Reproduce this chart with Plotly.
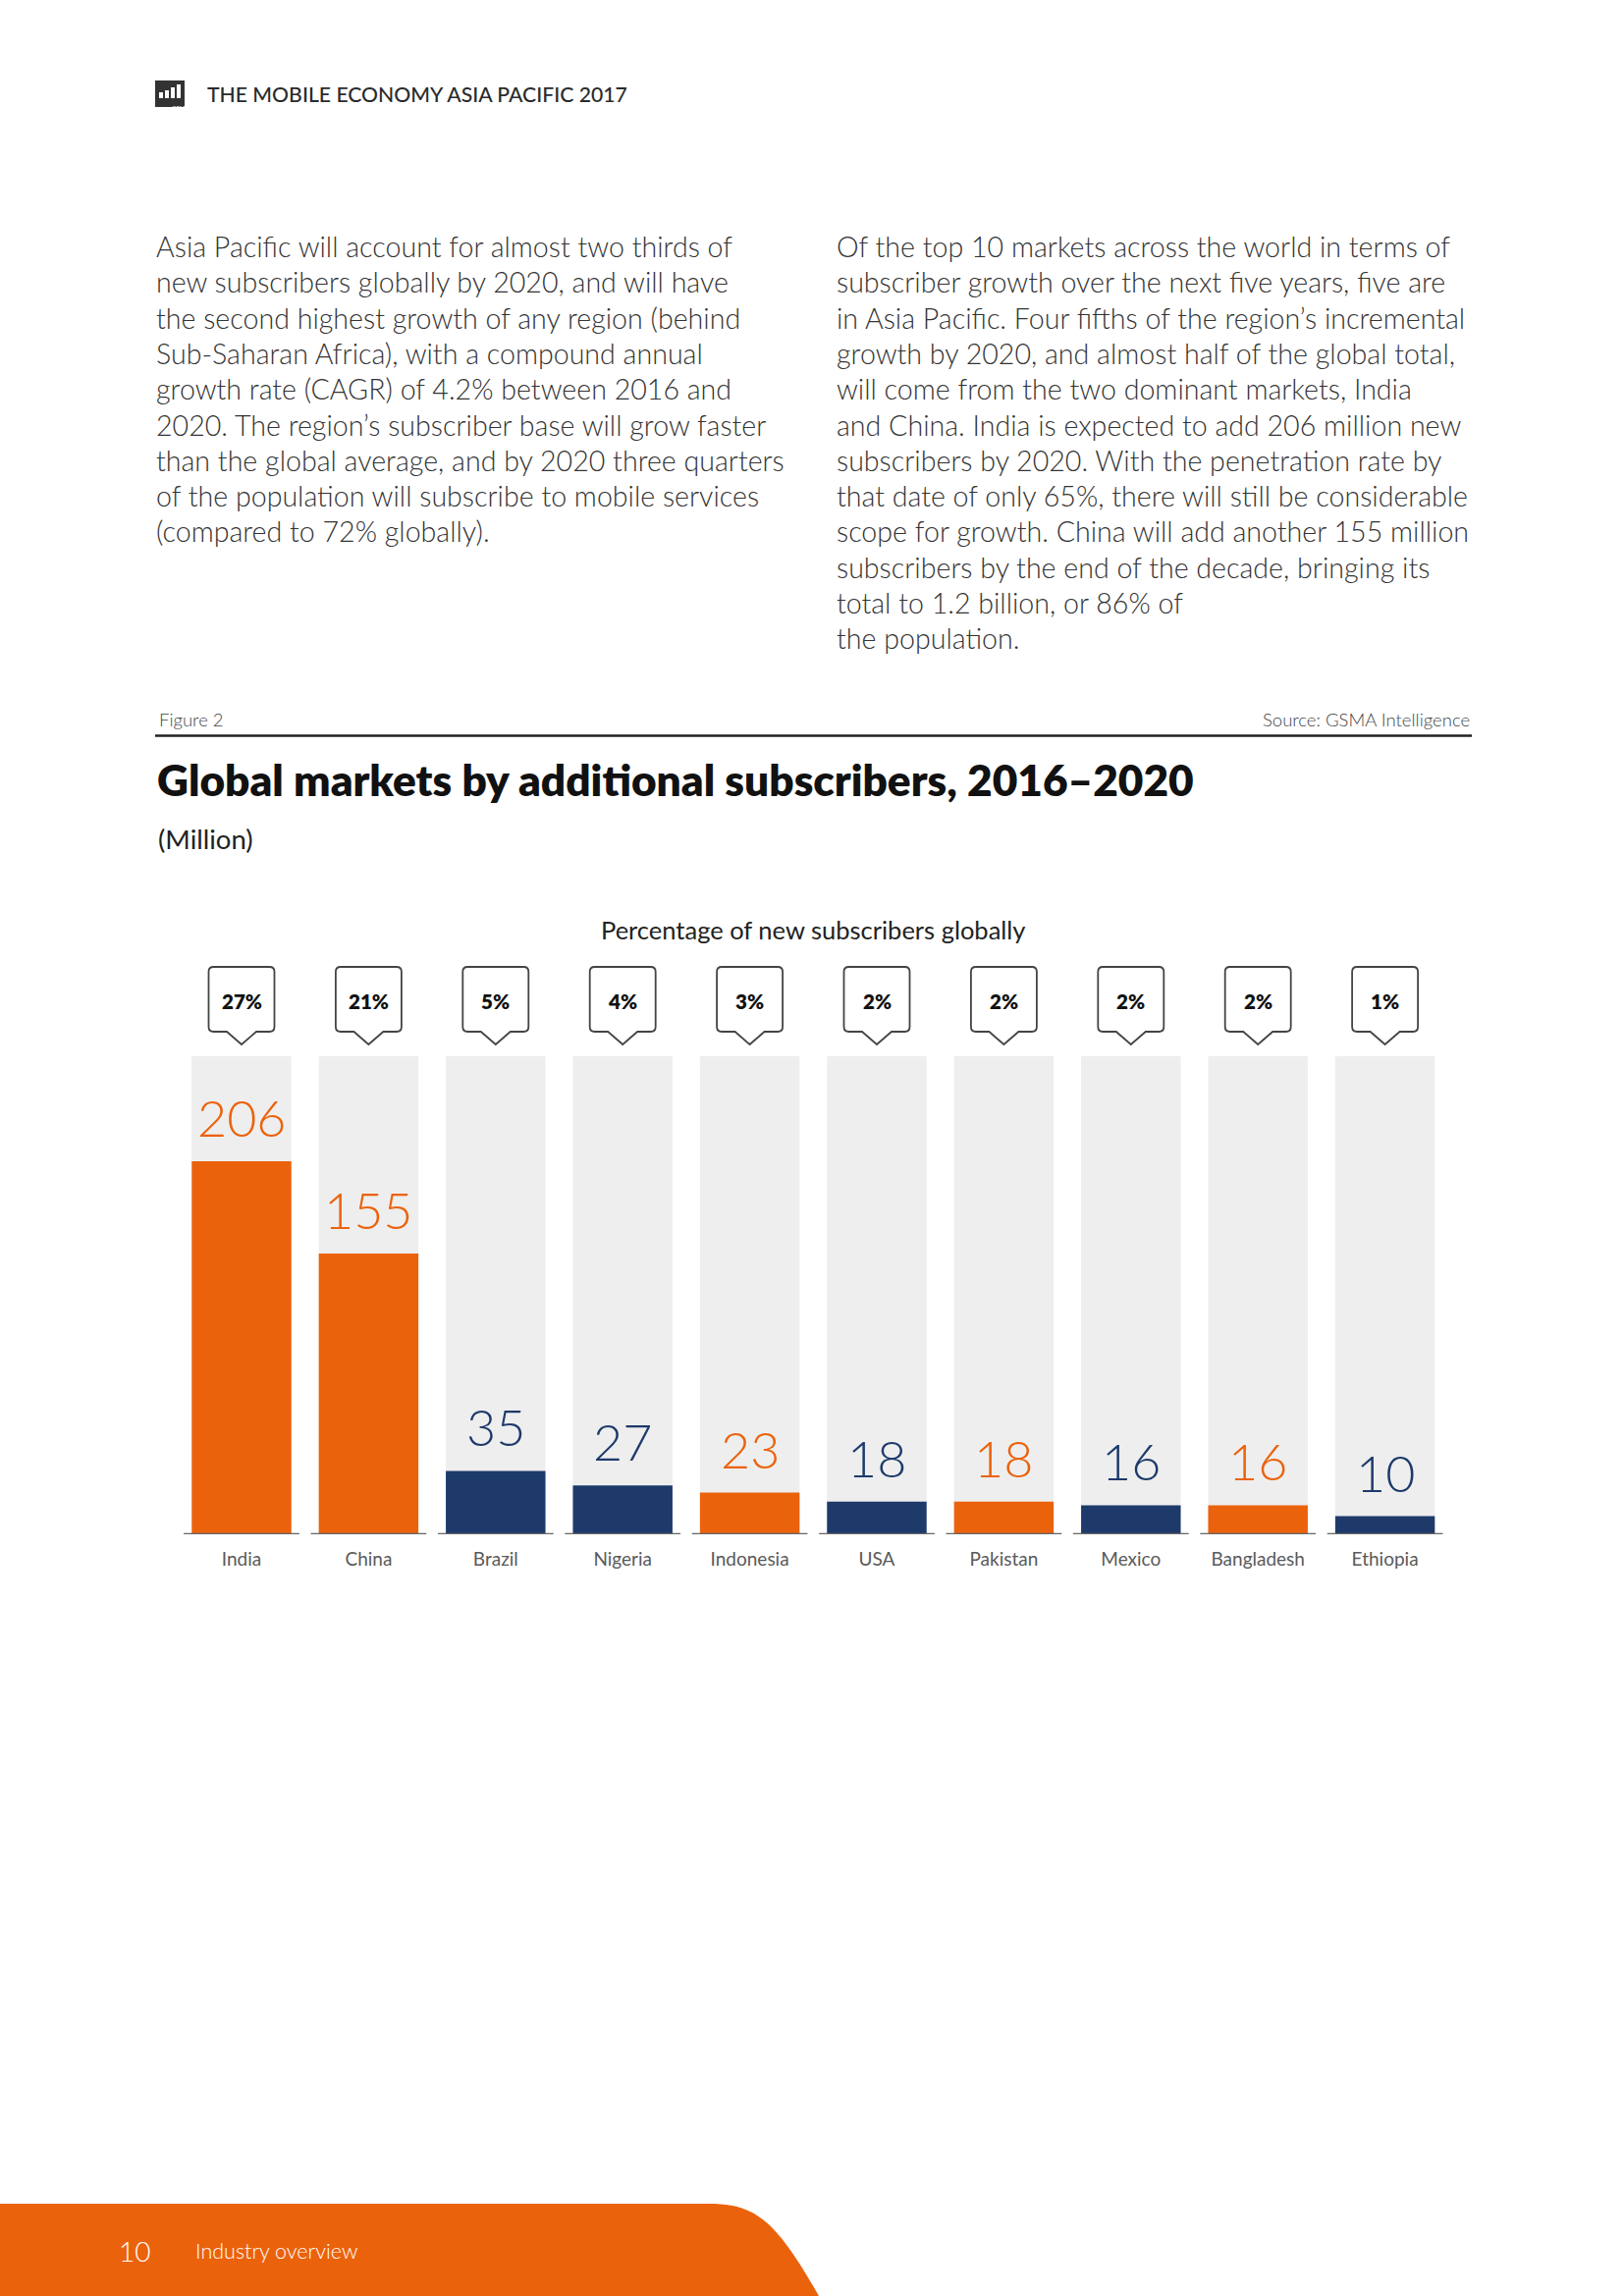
import plotly.graph_objects as go

# ---------------- data ----------------
countries = ["India", "China", "Brazil", "Nigeria", "Indonesia", "USA",
             "Pakistan", "Mexico", "Bangladesh", "Ethiopia"]
additional_subscribers = [206, 155, 35, 27, 23, 18, 18, 16, 16, 10]
share_of_new_pct = [27, 21, 5, 4, 3, 2, 2, 2, 2, 1]
is_asia_pacific = [True, True, False, False, True, False, True, False, True, False]

header_text = "THE MOBILE ECONOMY ASIA PACIFIC 2017"
left_lines = [
    "Asia Pacific will account for almost two thirds of",
    "new subscribers globally by 2020, and will have",
    "the second highest growth of any region (behind",
    "Sub-Saharan Africa), with a compound annual",
    "growth rate (CAGR) of 4.2% between 2016 and",
    "2020. The region\u2019s subscriber base will grow faster",
    "than the global average, and by 2020 three quarters",
    "of the population will subscribe to mobile services",
    "(compared to 72% globally).",
]
right_lines = [
    "Of the top 10 markets across the world in terms of",
    "subscriber growth over the next five years, five are",
    "in Asia Pacific. Four fifths of the region\u2019s incremental",
    "growth by 2020, and almost half of the global total,",
    "will come from the two dominant markets, India",
    "and China. India is expected to add 206 million new",
    "subscribers by 2020. With the penetration rate by",
    "that date of only 65%, there will still be considerable",
    "scope for growth. China will add another 155 million",
    "subscribers by the end of the decade, bringing its",
    "total to 1.2 billion, or 86% of",
    "the population.",
]

# ---------------- style ----------------
W, H = 1654, 2339
ORANGE = "#EB620C"
NAVY = "#1D3A6A"
GREY_BG = "#EEEEEE"
TEXT = "#333333"
BODY_FONT = "Lato"
Y_MAX = 264


def px(x):
    return x / W


def py(y):
    return 1 - y / H


bar_colors = [ORANGE if a else NAVY for a in is_asia_pacific]

fig = go.Figure()
fig.add_trace(go.Bar(x=countries, y=[Y_MAX] * len(countries), marker_color=GREY_BG,
                     marker_line_width=0, hoverinfo="skip", showlegend=False))
fig.add_trace(go.Bar(x=countries, y=additional_subscribers, marker_color=bar_colors,
                     marker_line_width=0, showlegend=False))

annotations = []
shapes = []

# header
shapes.append(dict(type="rect", xref="paper", yref="paper", x0=px(158), x1=px(188),
                   y0=py(109), y1=py(82), fillcolor="#333333", line_width=0))
for i, h0 in enumerate([94, 92, 89, 86]):
    shapes.append(dict(type="rect", xref="paper", yref="paper",
                       x0=px(162 + i * 6), x1=px(166 + i * 6), y0=py(100), y1=py(h0),
                       fillcolor="white", line_width=0))
annotations.append(dict(text="GSMA", x=px(173), y=py(104), xref="paper", yref="paper",
                        showarrow=False, font=dict(family=BODY_FONT, size=6, color="white")))
annotations.append(dict(text=header_text, x=px(209), y=py(96), xref="paper", yref="paper",
                        xanchor="left", yanchor="middle", showarrow=False,
                        font=dict(family=BODY_FONT, size=21.2, color="#2b2b2b", weight=500)))

# body paragraphs
for k, line in enumerate(left_lines):
    annotations.append(dict(text=line, x=px(157), y=py(251 + 36.3 * k), xref="paper", yref="paper",
                            xanchor="left", yanchor="middle", showarrow=False,
                            font=dict(family=BODY_FONT, size=28.6, color=TEXT, weight=300)))
for k, line in enumerate(right_lines):
    annotations.append(dict(text=line, x=px(850), y=py(251 + 36.3 * k), xref="paper", yref="paper",
                            xanchor="left", yanchor="middle", showarrow=False,
                            font=dict(family=BODY_FONT, size=28.6, color=TEXT, weight=300)))

# figure label, source, rule
annotations.append(dict(text="Figure 2", x=px(160), y=py(733), xref="paper", yref="paper",
                        xanchor="left", yanchor="middle", showarrow=False,
                        font=dict(family=BODY_FONT, size=18.5, color="#444444", weight=300)))
annotations.append(dict(text="Source: GSMA Intelligence", x=px(1499), y=py(733), xref="paper",
                        yref="paper", xanchor="right", yanchor="middle", showarrow=False,
                        font=dict(family=BODY_FONT, size=18.5, color="#444444", weight=300)))
shapes.append(dict(type="line", xref="paper", yref="paper", x0=px(158), x1=px(1499),
                   y0=py(749.5), y1=py(749.5), line=dict(color="#222222", width=2.5)))

# title
annotations.append(dict(text="Global markets by additional subscribers, 2016\u20132020",
                        x=px(158), y=py(793), xref="paper", yref="paper", xanchor="left",
                        yanchor="middle", showarrow=False,
                        font=dict(family=BODY_FONT, size=44.2, color="#111111", weight=800)))
annotations.append(dict(text="(Million)", x=px(159), y=py(854), xref="paper", yref="paper",
                        xanchor="left", yanchor="middle", showarrow=False,
                        font=dict(family=BODY_FONT, size=27.5, color="#222222", weight=400)))
annotations.append(dict(text="Percentage of new subscribers globally", x=px(829), y=py(947),
                        xref="paper", yref="paper", xanchor="center", yanchor="middle",
                        showarrow=False,
                        font=dict(family=BODY_FONT, size=25.5, color="#222222", weight=400)))

# callouts
unit_px = 129.4
hw = 33.5 / unit_px
pw = 15 / unit_px
rx = 5 / unit_px
ry = 5 / H
top, bot, tip = py(985), py(1051), py(1064)
for i, pct in enumerate(share_of_new_pct):
    c = i
    path = (f"M {c-hw+rx},{top} L {c+hw-rx},{top} Q {c+hw},{top} {c+hw},{top-ry} "
            f"L {c+hw},{bot+ry} Q {c+hw},{bot} {c+hw-rx},{bot} L {c+pw},{bot} L {c},{tip} "
            f"L {c-pw},{bot} L {c-hw+rx},{bot} Q {c-hw},{bot} {c-hw},{bot+ry} "
            f"L {c-hw},{top-ry} Q {c-hw},{top} {c-hw+rx},{top} Z")
    shapes.append(dict(type="path", xref="x", yref="paper", path=path,
                       line=dict(color="#444444", width=1.8), fillcolor="white"))
    annotations.append(dict(text=f"{pct}%", x=countries[i], y=py(1020), xref="x",
                            yref="paper", showarrow=False, yanchor="middle",
                            font=dict(family=BODY_FONT, size=20.5, color="#111111", weight=800)))

# value labels and baseline segments
for i, (name, v) in enumerate(zip(countries, additional_subscribers)):
    annotations.append(dict(text=str(v), x=name, y=v, xref="x", yref="y", showarrow=False,
                            yanchor="bottom", yshift=12,
                            font=dict(family=BODY_FONT, size=52, color=bar_colors[i],
                                      weight=300)))
    shapes.append(dict(type="line", xref="x", yref="y", x0=i - 0.455, x1=i + 0.455, y0=0, y1=0,
                       line=dict(color="#666666", width=2.5)))

# footer
footer_path = (f"M {px(0)},{py(2245)} L {px(722)},{py(2245)} "
               f"C {px(770)},{py(2245)} {px(790)},{py(2262)} {px(834)},{py(2339)} "
               f"L {px(0)},{py(2339)} Z")
shapes.append(dict(type="path", xref="paper", yref="paper", path=footer_path,
                   fillcolor=ORANGE, line_width=0))
annotations.append(dict(text="10", x=px(119), y=py(2293), xref="paper", yref="paper",
                        xanchor="left", yanchor="middle", showarrow=False,
                        font=dict(family=BODY_FONT, size=28, color="white", weight=300)))
annotations.append(dict(text="Industry overview", x=px(197), y=py(2293), xref="paper",
                        yref="paper", xanchor="left", yanchor="middle", showarrow=False,
                        font=dict(family=BODY_FONT, size=21.5, color="#ffffff", weight=300)))

fig.update_layout(
    width=W, height=H, margin=dict(l=0, r=0, t=0, b=0),
    paper_bgcolor="white", plot_bgcolor="white",
    barmode="overlay", bargap=0.216,
    annotations=annotations, shapes=shapes,
    xaxis=dict(domain=[px(181.3), px(1475.3)], range=[-0.5, 9.5], showgrid=False,
               zeroline=False, showline=False, ticks="", ticklabelstandoff=12,
               tickfont=dict(family=BODY_FONT, size=19, color="#5a5a5a")),
    yaxis=dict(domain=[py(1563), py(1076)], range=[0, Y_MAX], showgrid=False,
               zeroline=False, showline=False, showticklabels=False, ticks=""),
)

fig.write_html("out.html", config={"displayModeBar": False},
               post_script="document.body.style.margin='0';")
